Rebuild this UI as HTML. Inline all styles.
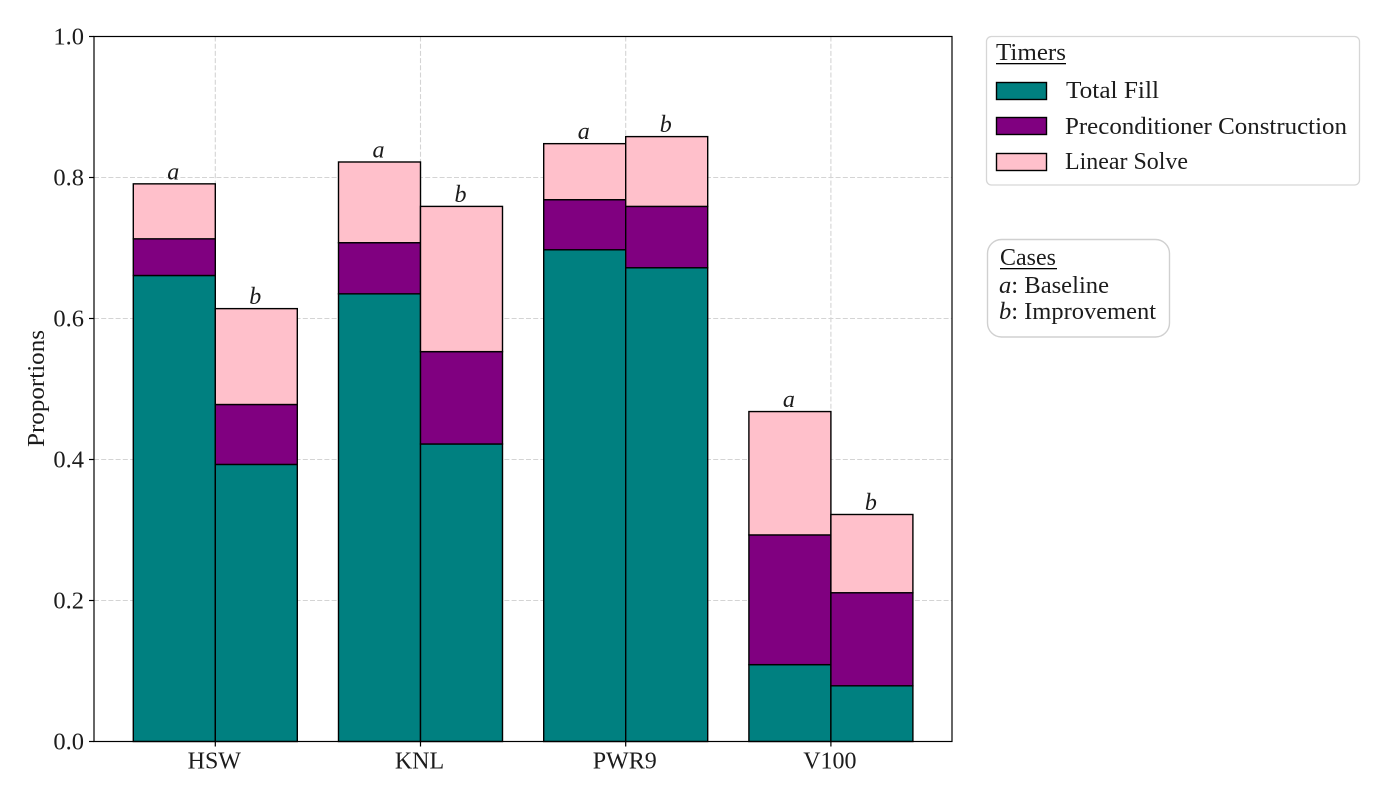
<!DOCTYPE html>
<html lang="en">
<head>
<meta charset="utf-8">
<title>Timer proportions by architecture</title>
<style>
  html, body { margin: 0; padding: 0; background: #fff; }
  svg { display: block; }
  text { font-family: "Liberation Serif", serif; fill: #1c1c1c; }
</style>
</head>
<body>
<svg id="chart" xmlns="http://www.w3.org/2000/svg" width="1400" height="800" viewBox="0 0 1400 800">
  <rect x="0" y="0" width="1400" height="800" fill="#fff"/>
  <g id="grid"></g>
  <g id="bars"></g>
  <rect x="94" y="36.5" width="858" height="705" fill="none" stroke="#000" stroke-width="1.2"/>
  <g id="ticks"></g>
  <text transform="translate(44 388.5) rotate(-90)" text-anchor="middle" font-size="24" textLength="117" lengthAdjust="spacingAndGlyphs">Proportions</text>

  <g>
    <rect x="986.5" y="36.5" width="373" height="148.5" rx="5" fill="#fff" stroke="#d6d6d6" stroke-width="1.3"/>
    <text x="996" y="60" font-size="24" textLength="70" lengthAdjust="spacingAndGlyphs">Timers</text>
    <rect x="996" y="63" width="70" height="1.3" fill="#000"/>
    <rect x="996.5" y="82.5" width="50" height="17" fill="#008080" stroke="#000" stroke-width="1.4"/>
    <text x="1066" y="98" font-size="24" textLength="93" lengthAdjust="spacingAndGlyphs">Total Fill</text>
    <rect x="996.5" y="117.5" width="50" height="17" fill="#800080" stroke="#000" stroke-width="1.4"/>
    <text x="1065" y="134" font-size="24" textLength="282" lengthAdjust="spacingAndGlyphs">Preconditioner Construction</text>
    <rect x="996.5" y="153.5" width="50" height="17" fill="#ffc0cb" stroke="#000" stroke-width="1.4"/>
    <text x="1065" y="169" font-size="24" textLength="123" lengthAdjust="spacingAndGlyphs">Linear Solve</text>
  </g>

  <g>
    <rect x="987.5" y="239.5" width="182" height="97.5" rx="14" fill="#fff" stroke="#d0d0d0" stroke-width="1.4"/>
    <text x="1000" y="265" font-size="24" textLength="56" lengthAdjust="spacingAndGlyphs">Cases</text>
    <rect x="1000" y="268" width="57" height="1.3" fill="#000"/>
    <text x="999" y="293" font-size="24" textLength="110" lengthAdjust="spacingAndGlyphs"><tspan font-style="italic">a</tspan>: Baseline</text>
    <text x="999" y="319" font-size="24" textLength="157" lengthAdjust="spacingAndGlyphs"><tspan font-style="italic">b</tspan>: Improvement</text>
  </g>
</svg>
<script>
const categories = ['HSW', 'KNL', 'PWR9', 'V100'];
const cases = ['a', 'b'];
const seriesNames = ['total-fill', 'preconditioner-construction', 'linear-solve'];
const seriesColors = ['#008080', '#800080', '#ffc0cb'];
const totalFillA = [0.661, 0.635, 0.6975, 0.109];
const totalFillB = [0.393, 0.422, 0.672, 0.079];
const preconditionerA = [0.052, 0.0725, 0.071, 0.184];
const preconditionerB = [0.085, 0.131, 0.087, 0.132];
const linearSolveA = [0.078, 0.1145, 0.0795, 0.175];
const linearSolveB = [0.136, 0.206, 0.099, 0.111];
const yTickValues = [0, 0.2, 0.4, 0.6, 0.8, 1];
const yTickLabels = ['0.0', '0.2', '0.4', '0.6', '0.8', '1.0'];

const SVG_NS = 'http://www.w3.org/2000/svg';
const plot = { left: 94, right: 952, top: 36.5, bottom: 741.5 };
const yMax = 1;
const firstCenter = 215.3;
const categoryStep = 205.2;
const barWidth = 82;

function yScale(v) {
  return plot.bottom - (v / yMax) * (plot.bottom - plot.top);
}
function xCenter(i) {
  return firstCenter + i * categoryStep;
}
function setAll(el, attrs) {
  Object.keys(attrs).forEach(function (k) { el.setAttribute(k, attrs[k]); });
}

const gridG = document.getElementById('grid');
const barsG = document.getElementById('bars');
const ticksG = document.getElementById('ticks');

yTickValues.forEach(function (v, i) {
  const y = yScale(v);
  if (v > 0 && v < yMax) {
    const g = document.createElementNS(SVG_NS, 'line');
    setAll(g, { x1: plot.left, x2: plot.right, y1: y, y2: y, stroke: '#d4d4d4', 'stroke-width': 1.1, 'stroke-dasharray': '5 2.2' });
    
    
    gridG.appendChild(g);
  }
  const t = document.createElementNS(SVG_NS, 'line');
  setAll(t, { x1: plot.left - 5, x2: plot.left, y1: y, y2: y, stroke: '#000', 'stroke-width': 1.2 });
  
  
  ticksG.appendChild(t);
  const lab = document.createElementNS(SVG_NS, 'text');
  setAll(lab, { x: plot.left - 10, y: y + 8, 'text-anchor': 'end', 'font-size': 24.5 });
  lab.textContent = yTickLabels[i];
  
  
  ticksG.appendChild(lab);
});

categories.forEach(function (c, i) {
  const cx = xCenter(i);
  const g = document.createElementNS(SVG_NS, 'line');
  setAll(g, { x1: cx, x2: cx, y1: plot.top, y2: plot.bottom, stroke: '#d4d4d4', 'stroke-width': 1.1, 'stroke-dasharray': '5 2.2' });
  
  
  gridG.appendChild(g);
  const t = document.createElementNS(SVG_NS, 'line');
  setAll(t, { x1: cx, x2: cx, y1: plot.bottom, y2: plot.bottom + 5, stroke: '#000', 'stroke-width': 1.2 });
  
  
  ticksG.appendChild(t);
  const lab = document.createElementNS(SVG_NS, 'text');
  setAll(lab, { x: cx - 1, y: plot.bottom + 27, 'text-anchor': 'middle', 'font-size': 24 });
  lab.textContent = c;
  
  
  ticksG.appendChild(lab);
});

const seriesByCase = [
  [totalFillA, preconditionerA, linearSolveA],
  [totalFillB, preconditionerB, linearSolveB]
];

categories.forEach(function (c, i) {
  const cx = xCenter(i);
  cases.forEach(function (caseName, k) {
    const x0 = k === 0 ? cx - barWidth : cx;
    let base = 0;
    seriesByCase[k].forEach(function (values, s) {
      const top = base + values[i];
      const r = document.createElementNS(SVG_NS, 'rect');
      setAll(r, {
        x: x0,
        y: yScale(top),
        width: barWidth,
        height: yScale(base) - yScale(top),
        fill: seriesColors[s],
        stroke: '#000',
        'stroke-width': 1.4
      });
      
      
      barsG.appendChild(r);
      base = top;
    });
    const lab = document.createElementNS(SVG_NS, 'text');
    setAll(lab, {
      x: x0 + barWidth / 2 - 1,
      y: yScale(base) - 4.5,
      'text-anchor': 'middle',
      'font-size': 24,
      'font-style': 'italic'
    });
    lab.textContent = caseName;
    
    
    barsG.appendChild(lab);
  });
});
</script>
</body>
</html>
